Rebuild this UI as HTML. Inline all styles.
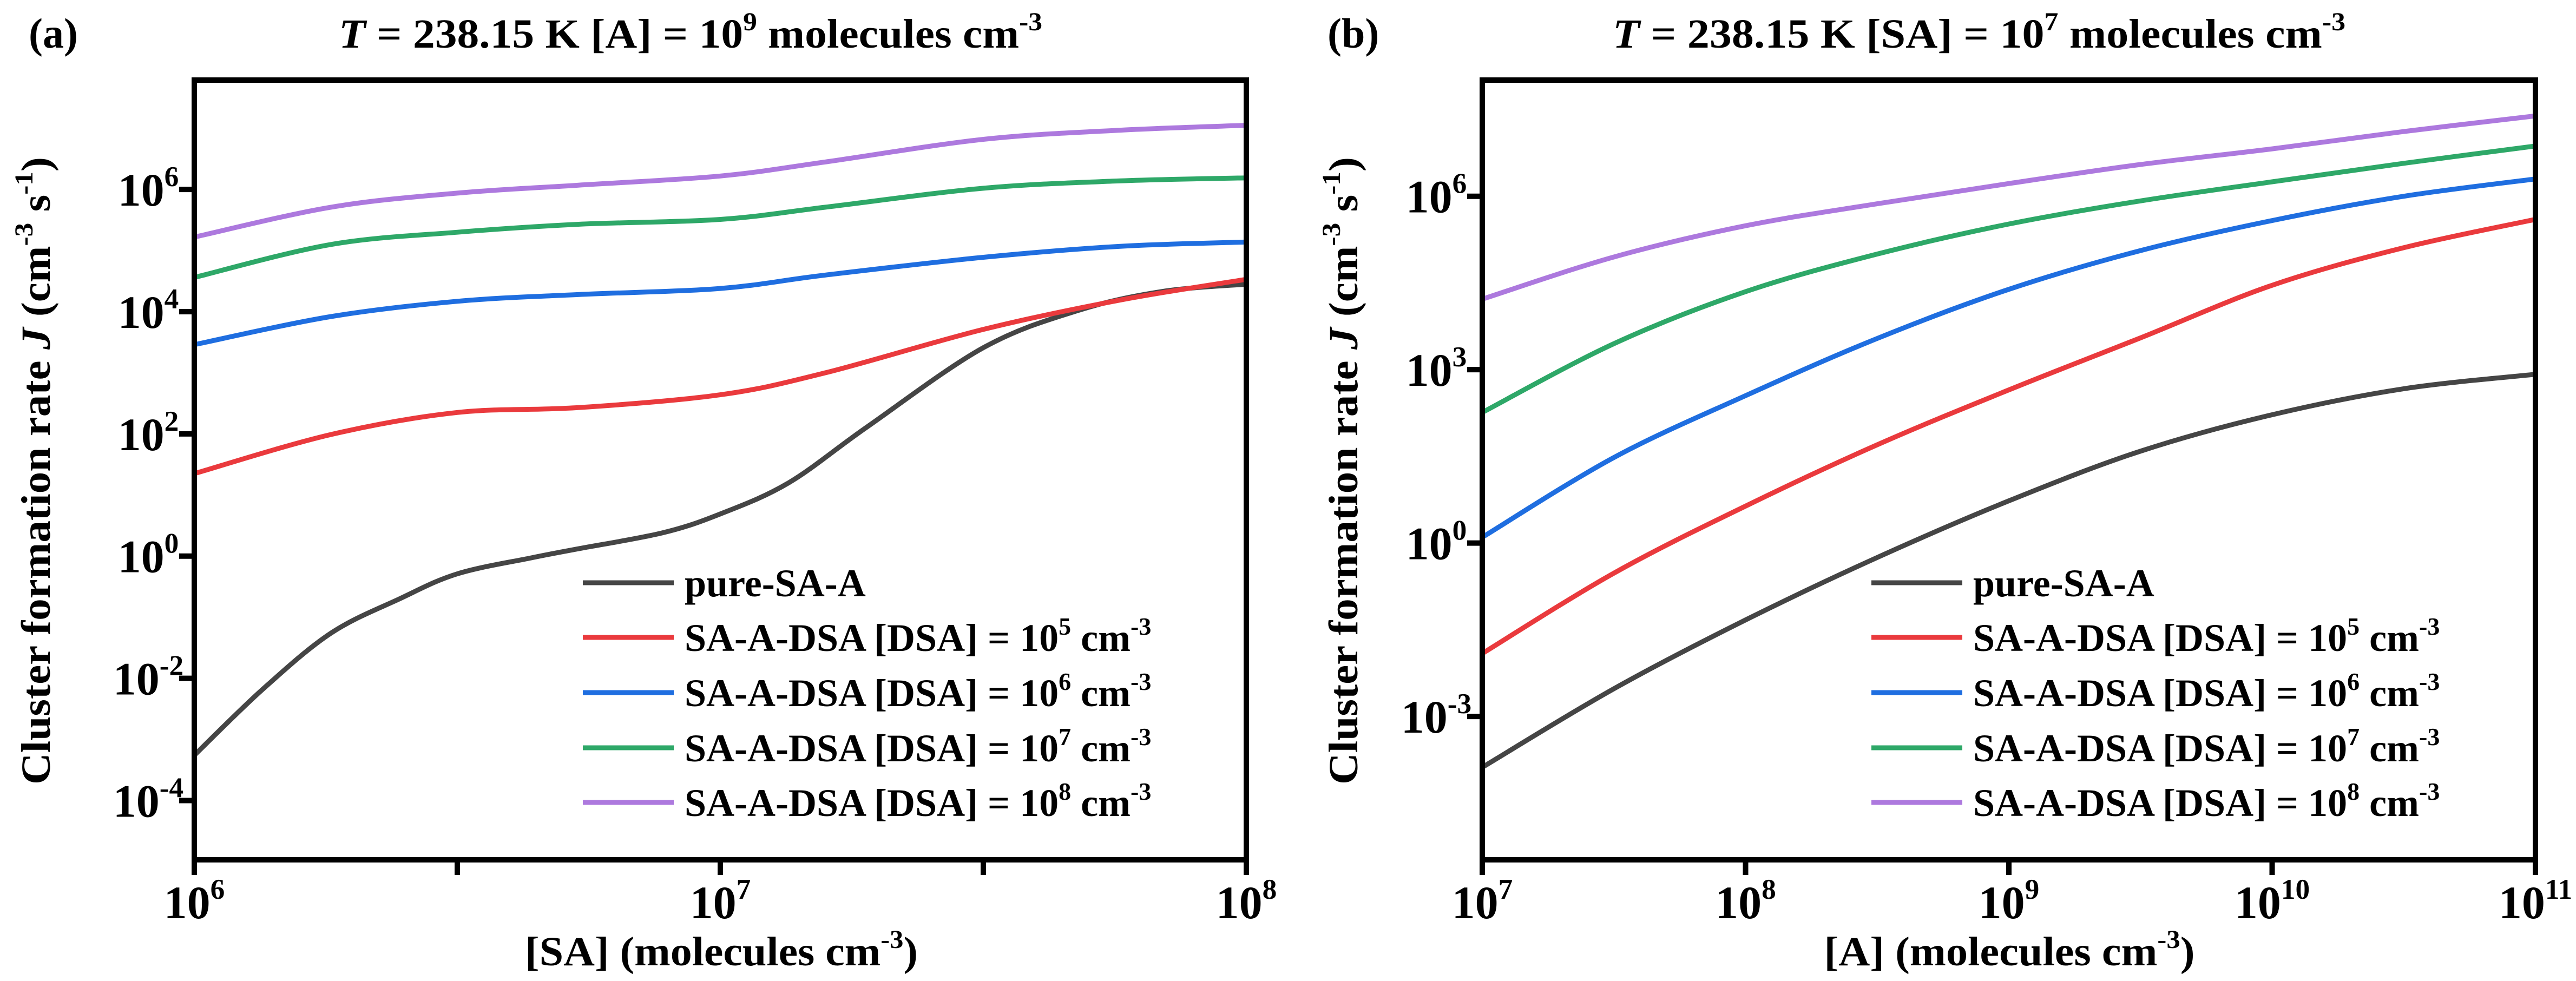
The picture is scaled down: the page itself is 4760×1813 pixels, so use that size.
<!DOCTYPE html>
<html><head><meta charset="utf-8"><style>
html,body{margin:0;padding:0;background:#fff}
svg{display:block}
text{font-family:"Liberation Serif",serif;font-weight:bold;fill:#000}
</style></head><body>
<svg id="fig" width="4760" height="1813" viewBox="0 0 4760 1813" xmlns="http://www.w3.org/2000/svg"></svg>
<script>
// ---- Panel (a) data: x = log10[SA], y = log10 J ----
const aLogX = [6.0, 6.26, 6.5, 6.73, 7.0, 7.2, 7.5, 7.76, 8.0];
const aPurple = [5.22, 5.71, 5.94, 6.07, 6.22, 6.45, 6.82, 6.97, 7.05];
const aGreen  = [4.56, 5.10, 5.30, 5.43, 5.51, 5.71, 6.02, 6.14, 6.19];
const aBlue   = [3.46, 3.92, 4.17, 4.28, 4.38, 4.60, 4.89, 5.07, 5.14];
const aRed    = [1.35, 1.99, 2.35, 2.43, 2.64, 3.00, 3.71, 4.19, 4.53];
const aBlackX = [6.0, 6.13, 6.26, 6.39, 6.5, 6.64, 6.73, 6.89, 7.0, 7.13, 7.28, 7.5, 7.68, 7.84, 8.0];
const aBlack  = [-3.26, -2.18, -1.26, -0.70, -0.29, -0.03, 0.12, 0.38, 0.69, 1.20, 2.12, 3.41, 4.02, 4.33, 4.45];
const aXTicks = [6, 7, 8];
const aXMinor = [6.5, 7.5];
const aYTicks = [-4, -2, 0, 2, 4, 6];
// ---- Panel (b) data: x = log10[A], y = log10 J ----
const bLogX = [7.0, 7.5, 8.0, 8.5, 9.0, 9.5, 10.0, 10.5, 11.0];
const bPurple = [4.22, 4.95, 5.49, 5.87, 6.22, 6.55, 6.82, 7.12, 7.39];
const bGreen  = [2.26, 3.45, 4.35, 5.00, 5.52, 5.92, 6.25, 6.57, 6.87];
const bBlue   = [0.10, 1.48, 2.55, 3.54, 4.39, 5.06, 5.58, 6.00, 6.30];
const bRed    = [-1.91, -0.52, 0.64, 1.70, 2.65, 3.55, 4.46, 5.11, 5.60];
const bBlack  = [-3.88, -2.52, -1.33, -0.25, 0.73, 1.59, 2.22, 2.67, 2.92];
const bXTicks = [7, 8, 9, 10, 11];
const bYTicks = [-3, 0, 3, 6];
const legendSup = ["5", "6", "7", "8"];

const NS = "http://www.w3.org/2000/svg";
const svg = document.getElementById("fig");
const COLORS = {black:"#454545", red:"#ea3a3d", blue:"#1f6ee0", green:"#2ea868", purple:"#ad79de"};

function el(tag, attrs, parent) {
  const e = document.createElementNS(NS, tag);
  for (const k in attrs) e.setAttribute(k, attrs[k]);
  (parent || svg).appendChild(e);
  return e;
}
function pow10Text(parent, x, y, anchor, base, exp, size) {
  const t = el("text", {x:x, y:y, "text-anchor":anchor, "font-size":size}, parent);
  t.appendChild(document.createTextNode(base));
  const s = el("tspan", {dy: -size*0.42, "font-size": size*0.62}, t);
  s.textContent = exp;
  return t;
}
function smoothPath(pts) {
  let d = "M" + pts[0][0].toFixed(1) + "," + pts[0][1].toFixed(1);
  for (let i = 0; i < pts.length - 1; i++) {
    const p0 = pts[Math.max(0, i-1)], p1 = pts[i], p2 = pts[i+1], p3 = pts[Math.min(pts.length-1, i+2)];
    const c1 = [p1[0] + (p2[0]-p0[0])/6, p1[1] + (p2[1]-p0[1])/6];
    const c2 = [p2[0] - (p3[0]-p1[0])/6, p2[1] - (p3[1]-p1[1])/6];
    d += " C" + c1[0].toFixed(1)+","+c1[1].toFixed(1)+" "+c2[0].toFixed(1)+","+c2[1].toFixed(1)+" "+p2[0].toFixed(1)+","+p2[1].toFixed(1);
  }
  return d;
}

function panel(cfg) {
  const g = el("g", {});
  
  
  const L = cfg.left, R = cfg.right, T = 148, B = 1589;
  const sx = v => L + (v - cfg.x0) / (cfg.x1 - cfg.x0) * (R - L);
  const sy = v => B - (v - cfg.y0) / (cfg.y1 - cfg.y0) * (B - T);
  const cp = el("clipPath", {id: cfg.name + "-clip"}, g);
  el("rect", {x:L, y:T, width:R-L, height:B-T}, cp);
  const sg = el("g", {"clip-path": "url(#" + cfg.name + "-clip)"}, g);
  cfg.series.forEach(s => {
    const pts = s.ys.map((v, i) => [sx(s.xs[i]), sy(v)]);
    const p = el("path", {d: smoothPath(pts), fill:"none", stroke: COLORS[s.color], "stroke-width": 9, "stroke-linejoin":"round"}, sg);
    
    
  });
  const fr = el("rect", {x:L, y:T, width:R-L, height:B-T, fill:"none", stroke:"#000", "stroke-width":10}, g);
  
  
  cfg.xTicks.forEach(v => {
    const x = sx(v);
    el("line", {x1:x, x2:x, y1:B, y2:B+28, stroke:"#000", "stroke-width":10}, g);
    const t = pow10Text(g, x, 1697, "middle", "10", String(v), 86);
    
    
  });
  (cfg.xMinor || []).forEach(v => {
    const x = sx(v);
    el("line", {x1:x, x2:x, y1:B, y2:B+28, stroke:"#000", "stroke-width":10}, g);
  });
  cfg.yTicks.forEach(v => {
    const y = sy(v);
    el("line", {x1:L-28, x2:L, y1:y, y2:y, stroke:"#000", "stroke-width":10}, g);
    const t = pow10Text(g, L - 85, y + 30, "middle", "10", String(v), 86);
    
    
  });
  const lg = el("g", {}, g);
  
  
  const rows = [1077, 1178, 1280, 1382, 1483];
  const order = ["black", "red", "blue", "green", "purple"];
  order.forEach((c, i) => {
    const y = rows[i];
    el("line", {x1:cfg.legX, x2:cfg.legX+168, y1:y, y2:y, stroke:COLORS[c], "stroke-width":9}, lg);
    let t;
    if (i === 0) {
      t = el("text", {x:cfg.legX+188, y:y+25, "font-size":72}, lg);
      t.textContent = "pure-SA-A";
    } else {
      t = el("text", {x:cfg.legX+188, y:y+25, "font-size":72}, lg);
      t.appendChild(document.createTextNode("SA-A-DSA [DSA] = 10"));
      const s1 = el("tspan", {dy:-30, "font-size":46}, t); s1.textContent = legendSup[i-1];
      const s2 = el("tspan", {dy:30, "font-size":72}, t); s2.textContent = " cm";
      const s3 = el("tspan", {dy:-30, "font-size":46}, t); s3.textContent = "-3";
    }
    
    
  });
}

panel({name:"panel-a", left:359, right:2303, x0:6, x1:8, y0:-4.97, y1:7.79,
  xTicks:aXTicks, xMinor:aXMinor, yTicks:aYTicks, legX:1077,
  series:[
    {key:"pure-sa-a", color:"black", xs:aBlackX, ys:aBlack},
    {key:"dsa-1e5", color:"red", xs:aLogX, ys:aRed},
    {key:"dsa-1e6", color:"blue", xs:aLogX, ys:aBlue},
    {key:"dsa-1e7", color:"green", xs:aLogX, ys:aGreen},
    {key:"dsa-1e8", color:"purple", xs:aLogX, ys:aPurple}
  ]});
panel({name:"panel-b", left:2739, right:4685, x0:7, x1:11, y0:-5.48, y1:8.01,
  xTicks:bXTicks, yTicks:bYTicks, legX:3458,
  series:[
    {key:"pure-sa-a", color:"black", xs:bLogX, ys:bBlack},
    {key:"dsa-1e5", color:"red", xs:bLogX, ys:bRed},
    {key:"dsa-1e6", color:"blue", xs:bLogX, ys:bBlue},
    {key:"dsa-1e7", color:"green", xs:bLogX, ys:bGreen},
    {key:"dsa-1e8", color:"purple", xs:bLogX, ys:bPurple}
  ]});
</script>
<script>
(function(){
  const svg = document.getElementById("fig");
  const html = `
  <text x="53" y="88" font-size="78">(a)</text>
  <text x="2453" y="88" font-size="78">(b)</text>
  <text x="1276" y="88" font-size="76" text-anchor="middle" textLength="1300" lengthAdjust="spacingAndGlyphs"><tspan font-style="italic">T</tspan> = 238.15 K  [A] = 10<tspan dy="-32" font-size="48">9</tspan><tspan dy="32"> molecules cm</tspan><tspan dy="-32" font-size="48">-3</tspan></text>
  <text x="3657" y="88" font-size="76" text-anchor="middle" textLength="1354" lengthAdjust="spacingAndGlyphs"><tspan font-style="italic">T</tspan> = 238.15 K  [SA] = 10<tspan dy="-32" font-size="48">7</tspan><tspan dy="32"> molecules cm</tspan><tspan dy="-32" font-size="48">-3</tspan></text>
  <text x="1333" y="1784" font-size="76" text-anchor="middle" textLength="726" lengthAdjust="spacingAndGlyphs">[SA] (molecules cm<tspan dy="-32" font-size="48">-3</tspan><tspan dy="32">)</tspan></text>
  <text x="3713" y="1784" font-size="76" text-anchor="middle" textLength="685" lengthAdjust="spacingAndGlyphs">[A] (molecules cm<tspan dy="-32" font-size="48">-3</tspan><tspan dy="32">)</tspan></text>
  <text transform="translate(92,870) rotate(-90)" font-size="76" text-anchor="middle" textLength="1160" lengthAdjust="spacingAndGlyphs">Cluster formation rate <tspan font-style="italic">J</tspan> (cm<tspan dy="-32" font-size="48">-3</tspan><tspan dy="32"> s</tspan><tspan dy="-32" font-size="48">-1</tspan><tspan dy="32">)</tspan></text>
  <text transform="translate(2508,870) rotate(-90)" font-size="76" text-anchor="middle" textLength="1160" lengthAdjust="spacingAndGlyphs">Cluster formation rate <tspan font-style="italic">J</tspan> (cm<tspan dy="-32" font-size="48">-3</tspan><tspan dy="32"> s</tspan><tspan dy="-32" font-size="48">-1</tspan><tspan dy="32">)</tspan></text>`;
  const tmp = document.createElementNS("http://www.w3.org/2000/svg","g");
  tmp.innerHTML = html;
  while (tmp.firstChild) svg.appendChild(tmp.firstChild);
})();
</script>
</body></html>
